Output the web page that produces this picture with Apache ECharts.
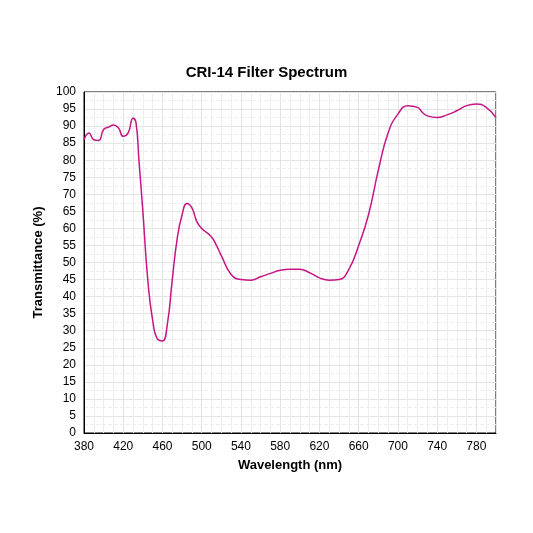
<!DOCTYPE html>
<html>
<head>
<meta charset="utf-8">
<script src="https://cdn.jsdelivr.net/npm/echarts@6/dist/echarts.min.js"></script>
<style>body{margin:0;background:#fff}#chart{width:533px;height:533px}</style>
</head>
<body>
<div id="chart"></div>
<script>
let wavelengths = [380,385,390,395,400,405,410,415,420,425,430,433,436,440,445,450,455,460,465,470,475,480,485,490,495,500,510,515,520,530,540,550,560,570,580,590,600,610,620,630,640,650,660,670,680,690,700,710,720,725,730,740,750,760,770,780,790,800];
let transmittance = [86,88,86,85.8,89,89.7,90.3,89.5,87,88,92.3,91,80,65,45,33,27.5,27,32,45,57,64,67.3,66,62,60,57.5,55,52,46.5,45,44.8,45.8,46.8,47.7,48,48,47,45.5,44.8,45,48,55,64,77,88,93.5,96,95.5,94,93,92.5,93.3,94.5,96,96.5,95.5,92.5];

let chart = echarts.init(document.getElementById('chart'));
let font = 'Liberation Sans, Arial, sans-serif';

chart.setOption({
    title: {
        text: 'CRI-14 Filter Spectrum',
        left: 'center',
        top: 60,
        textStyle: {fontFamily: font, fontSize: 15, fontWeight: 'bold', color: '#000'}
    },
    grid: {left: 84, right: 37, top: 92, bottom: 100, show: true, borderColor: '#000', borderWidth: 1},
    xAxis: {
        type: 'value',
        min: 380, max: 800, interval: 40,
        name: 'Wavelength (nm)',
        nameLocation: 'middle',
        nameGap: 26,
        nameTextStyle: {fontFamily: font, fontSize: 13, fontWeight: 'bold', color: '#000'},
        axisLine: {lineStyle: {color: '#000'}},
        axisTick: {show: false},
        axisLabel: {fontFamily: font, fontSize: 12, color: '#000'},
        splitLine: {show: true, lineStyle: {color: '#e4e4e4'}},
        minorTick: {show: false, splitNumber: 4},
        minorSplitLine: {show: true, lineStyle: {color: '#eeeeee'}}
    },
    yAxis: {
        type: 'value',
        min: 0, max: 100, interval: 5,
        name: 'Transmittance (%)',
        nameLocation: 'middle',
        nameGap: 36,
        nameTextStyle: {fontFamily: font, fontSize: 13, fontWeight: 'bold', color: '#000'},
        axisLine: {show: true, lineStyle: {color: '#000'}},
        axisTick: {show: false},
        axisLabel: {fontFamily: font, fontSize: 12, color: '#000'},
        splitLine: {show: true, lineStyle: {color: '#e4e4e4'}},
        minorTick: {show: false, splitNumber: 2},
        minorSplitLine: {show: true, lineStyle: {color: '#eeeeee', type: 'dashed'}}
    },
    series: [{
        type: 'line',
        data: wavelengths.map((w, i) => [w, transmittance[i]]),
        smooth: 0.5,
        showSymbol: false,
        lineStyle: {color: '#c71585', width: 1.5}
    }]
});
</script>
</body>
</html>
